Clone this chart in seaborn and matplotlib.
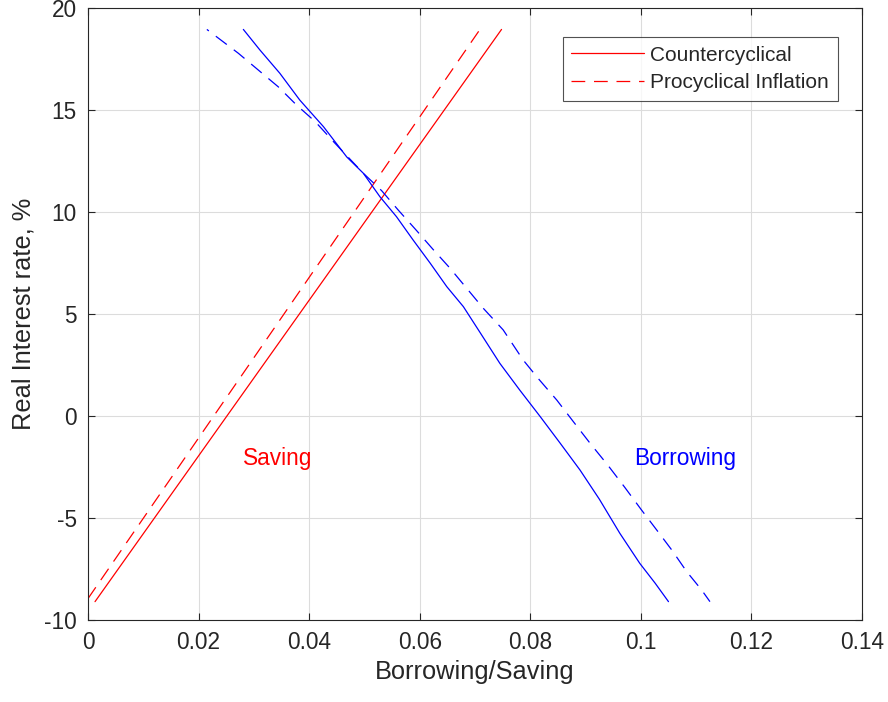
import matplotlib
matplotlib.use("Agg")
import matplotlib.pyplot as plt
import seaborn as sns
import numpy as np

# Saving curves (x = saving, y = rate)
sav_y = [-9.1, 18.95]
sav_counter_x = [0.00127, 0.0748]
sav_pro_y = [-8.95, 18.95]
sav_pro_x = [0.0, 0.0709]

# Borrowing curves
bor_counter_x = [0.0281, 0.0311, 0.0347, 0.0383, 0.0426, 0.0468, 0.0498, 0.0528, 0.0558,
                 0.0588, 0.0619, 0.0649, 0.0679, 0.0709, 0.0745, 0.0781, 0.0818, 0.0854,
                 0.0890, 0.0925, 0.0962, 0.0998, 0.1026, 0.1050]
bor_counter_y = [18.95, 17.94, 16.80, 15.49, 14.18, 12.70, 11.90, 10.75, 9.77,
                 8.63, 7.49, 6.34, 5.36, 4.10, 2.58, 1.27, -0.03, -1.33,
                 -2.65, -4.08, -5.75, -7.22, -8.20, -9.10]
bor_pro_x = [0.0215, 0.0272, 0.0308, 0.0344, 0.0377, 0.0411, 0.0444, 0.0498, 0.0531,
             0.0561, 0.0594, 0.0625, 0.0655, 0.0685, 0.0715, 0.0751, 0.0787, 0.0814,
             0.0848, 0.0878, 0.0908, 0.0940, 0.0971, 0.1001, 0.1031, 0.1056, 0.1083,
             0.1110, 0.1125]
bor_pro_y = [18.95, 17.78, 16.96, 16.14, 15.25, 14.43, 13.45, 11.90, 11.05,
             10.10, 9.10, 8.14, 7.24, 6.26, 5.28, 4.22, 2.75, 1.85,
             0.78, -0.28, -1.33, -2.40, -3.50, -4.60, -5.67, -6.57, -7.63,
             -8.53, -9.10]

xticks = [0, 0.02, 0.04, 0.06, 0.08, 0.1, 0.12, 0.14]
xticklabels = ["0", "0.02", "0.04", "0.06", "0.08", "0.1", "0.12", "0.14"]
yticks = [-10, -5, 0, 5, 10, 15, 20]
yticklabels = ["-10", "-5", "0", "5", "10", "15", "20"]

sns.set_style("white")
plt.rcParams['font.family'] = ['Liberation Sans', 'DejaVu Sans']

fig = plt.figure(figsize=(8.88, 7.02), dpi=100)
ax = fig.add_axes([0.0991, 0.1168, 0.8716, 0.8718])

red = "#ff0000"
blue = "#0000ff"
lw = 0.9
dash = (0, (11, 7))
sns.lineplot(x=sav_counter_x, y=sav_y, sort=False, estimator=None, ax=ax,
             color=red, linewidth=lw, label="Countercyclical")
sns.lineplot(x=sav_pro_x, y=sav_pro_y, sort=False, estimator=None, ax=ax,
             color=red, linewidth=lw, linestyle=dash, label="Procyclical Inflation")
sns.lineplot(x=bor_counter_x, y=bor_counter_y, sort=False, estimator=None, ax=ax,
             color=blue, linewidth=lw, legend=False)
sns.lineplot(x=bor_pro_x, y=bor_pro_y, sort=False, estimator=None, ax=ax,
             color=blue, linewidth=lw, linestyle=(9, (11, 7)), legend=False)

ax.set_xlim(0, 0.14)
ax.set_ylim(-10, 20)
ax.set_xticks(xticks)
ax.set_xticklabels(xticklabels)
ax.set_yticks(yticks)
ax.set_yticklabels(yticklabels)
ax.grid(True, color="#dcdcdc", linewidth=0.8)
ax.set_axisbelow(True)
for s in ax.spines.values():
    s.set_color("#262626")
    s.set_linewidth(0.8)
ax.tick_params(direction="in", length=5, width=0.8, colors="#262626",
               labelsize=16.3, top=True, right=True, bottom=True, left=True,
               labelcolor="#262626")
ax.tick_params(axis="x", pad=8)
ax.tick_params(axis="y", pad=8)
ax.set_xlabel("Borrowing/Saving", fontsize=18.3, color="#262626", labelpad=4)
ax.set_ylabel("Real Interest rate, %", fontsize=18.3, color="#262626", labelpad=6)

ax.text(0.0343, -2.06, "Saving", color=red, fontsize=16.3, ha="center", va="center")
ax.text(0.108, -2.06, "Borrowing", color=blue, fontsize=16.3, ha="center", va="center")

leg = ax.legend(loc="upper right", bbox_to_anchor=(0.969, 0.9526), fontsize=15,
                frameon=True, fancybox=False, edgecolor="#262626", handlelength=3.5,
                borderpad=0.42, labelspacing=0.4, handletextpad=0.3, borderaxespad=0)
leg.get_frame().set_linewidth(0.8)

fig.savefig("out.png", dpi=100)
